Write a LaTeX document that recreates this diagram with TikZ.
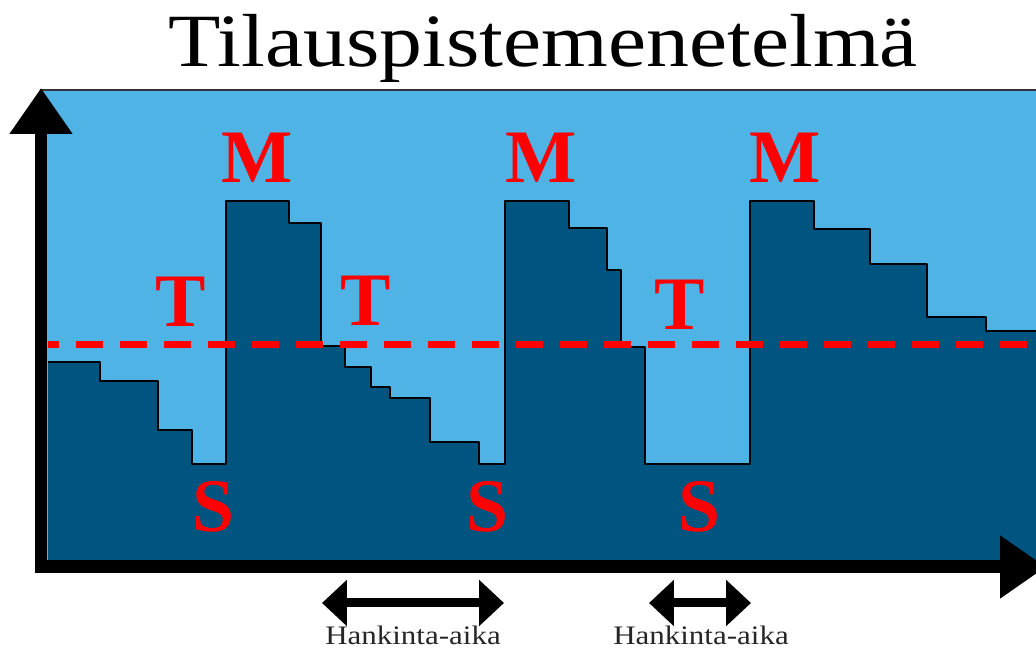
\documentclass[tikz,border=0pt]{standalone}
\usepackage{fontspec}
\setmainfont{Liberation Serif}
\newfontfamily\titlefont[FakeStretch=1.14]{Liberation Serif}
\newfontfamily\leadfont[FakeStretch=1.16]{Liberation Serif}
\usetikzlibrary{arrows.meta}
\definecolor{sky}{HTML}{4FB3E6}
\definecolor{deep}{HTML}{005580}
\tikzset{lvl/.style={text=red, font=\fontsize{43}{43}\selectfont\bfseries, inner sep=0pt, anchor=base}}
\tikzset{axis/.style={line width=0.26cm, -{Triangle[width=1.2cm,length=0.92cm]}}}
\tikzset{lead/.style={line width=0.18cm, {Triangle[width=0.9cm,length=0.5cm]}-{Triangle[width=0.9cm,length=0.5cm]}}}
\tikzset{leadtext/.style={font=\leadfont\fontsize{15.2}{15}\selectfont, text=black!85, anchor=base, inner sep=0pt}}
\def\stock{(48,362) -| (100,381) -| (158,430) -| (192,464) -| (226,201) -| (289,223)
  -| (321,346) -| (345,367) -| (371,387) -| (390,398) -| (430,442) -| (479,464)
  -| (505,201) -| (569,228) -| (607,270) -| (621,347) -| (645,464)
  -| (750,201) -| (814,229) -| (870,264) -| (927,317) -| (986,331) -- (1040,331)}

\begin{document}
\begin{tikzpicture}[x=0.02cm, y=-0.02cm]

    \useasboundingbox (0,0) rectangle (1036,651);

    \node[font=\titlefont\fontsize{42.8}{50}\selectfont, anchor=base, inner sep=0pt] (title) at (543,67) {Tilauspistemenetelmä};

    \fill[sky] (40,90) rectangle (1040,565);
    \draw[black!80, line width=0.03cm] (40,90) -- (1040,90);

    \fill[deep] \stock |- (48,565) -- cycle;
    \draw[line width=0.045cm, line join=round] \stock;

    \draw[red, line width=0.14cm, dash pattern=on 0.54cm off 0.34cm, dash phase=0.32cm] (48,345) -- (1040,345);

    \coordinate (ybot) at (41,573);
    \coordinate (ytop) at (41,88);
    \coordinate (xleft) at (35,567);
    \coordinate (xright) at (1046,567);
    \draw[axis] (ybot) -- (ytop);
    \draw[axis] (xleft) -- (xright);

    \node[lvl] (m1) at (257,183) {M};
    \node[lvl] (m2) at (541,183) {M};
    \node[lvl] (m3) at (785,183) {M};
    \node[lvl] (t1) at (181,327) {T};
    \node[lvl] (t2) at (366,326) {T};
    \node[lvl] (t3) at (680,330) {T};
    \node[lvl] (s1) at (214,532) {S};
    \node[lvl] (s2) at (488,532) {S};
    \node[lvl] (s3) at (700,532) {S};

    \coordinate (lead1a) at (322,603);
    \coordinate (lead1b) at (504,603);
    \coordinate (lead2a) at (649,603);
    \coordinate (lead2b) at (751,603);
    \draw[lead] (lead1a) -- (lead1b);
    \draw[lead] (lead2a) -- (lead2b);
    \node[leadtext] (h1) at (413,645) {Hankinta-aika};
    \node[leadtext] (h2) at (701,645) {Hankinta-aika};

\end{tikzpicture}
\end{document}
